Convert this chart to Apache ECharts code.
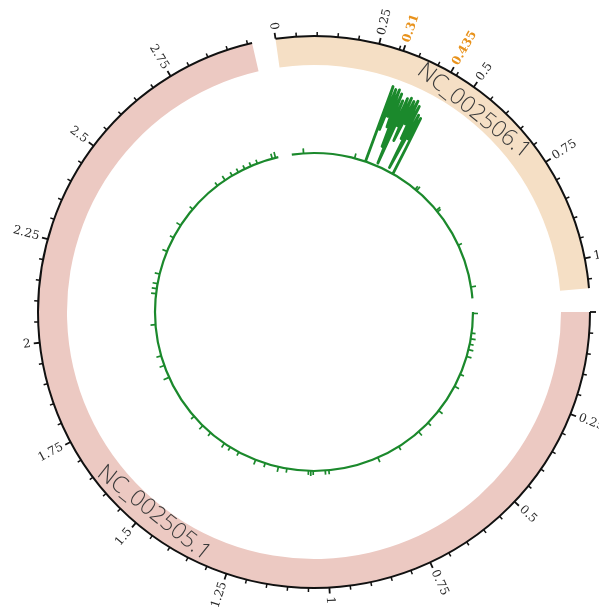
<!DOCTYPE html>
<html>
<head>
<meta charset="utf-8">
<script src="https://cdn.jsdelivr.net/npm/echarts@6/dist/echarts.min.js"></script>
<style>
  html, body { margin: 0; padding: 0; background: #ffffff; }
  #chart { width: 599px; height: 608px; }
</style>
</head>
<body>
<div id="chart"></div>
<script>
// Genome layout (lengths in Mb)
const chromNames = ['NC_002505.1', 'NC_002506.1'];
const chromLengths = [2.961149, 1.072315];
const gapMb = 0.057;

// Ideogram ticks
const tickStep = 0.05;
const ticksPerLabel = 5;
const chr1TickLabels = ['0', '0.25', '0.5', '0.75', '1', '1.25', '1.5', '1.75', '2', '2.25', '2.5', '2.75'];
const chr2TickLabels = ['0', '0.25', '0.5', '0.75', '1'];
const markedPositions = [0.31, 0.435];   // on NC_002506.1
const markedLabels = ['0.31', '0.435'];

// Signal track: isolated peaks (position Mb, signal)
const chr1SpikePos = [0.006, 0.088, 0.112, 0.135, 0.158, 0.187, 0.266, 0.321,
  0.442, 0.509, 0.563, 0.666, 0.764,
  0.975, 0.990, 1.040, 1.050, 1.060,
  1.150, 1.186, 1.243, 1.285,
  1.362, 1.403, 1.432,
  1.504, 1.548, 1.601,
  1.794, 1.847, 1.889,
  2.021,
  2.150, 2.171, 2.192, 2.233,
  2.332, 2.395, 2.454, 2.538,
  2.680, 2.719, 2.754, 2.783, 2.813, 2.841, 2.870,
  2.935, 2.949];
const chr1SpikeVal = [5, 4, 5, 4, 5, 5, 4, 5,
  5, 4, 5, 4, 5,
  4, 4, 4, 5, 4,
  4, 5, 4, 5,
  4, 4, 5,
  4, 5, 4,
  6, 5, 5,
  5,
  5, 5, 5, 5,
  5, 4, 5, 4,
  4, 5, 4, 4, 4, 4, 4,
  5, 6];
const chr2SpikePos = [0.049, 0.263, 0.548, 0.556, 0.672, 0.680, 0.843, 1.025];
const chr2SpikeVal = [5, 5, 4, 5, 5, 4, 4, 5];

// Signal track: high-signal region on NC_002506.1 (0.31 - 0.435 Mb)
const chr2RegionPos = [0.310, 0.315, 0.320, 0.325, 0.330, 0.335, 0.340, 0.345, 0.350,
  0.355, 0.360, 0.365, 0.370, 0.375, 0.380, 0.385, 0.390, 0.395, 0.400,
  0.405, 0.410, 0.415, 0.420, 0.425, 0.430, 0.435];
const chr2RegionVal = [0, 80, 35, 78, 50, 79, 40, 76, 20,
  70, 3, 74, 45, 76, 30, 74, 50, 76, 35,
  72, 4, 64, 38, 62, 30, 0];

const totalMb = chromLengths[0] + chromLengths[1] + 2 * gapMb;
const offsets = [0, chromLengths[0] + gapMb];
const tickLabels = [chr1TickLabels, chr2TickLabels];
const spikePos = [chr1SpikePos, chr2SpikePos];
const spikeVal = [chr1SpikeVal, chr2SpikeVal];

const bandColors = ['#ecc9c2', '#f5dfc5'];
const trackColor = '#1b892c';
const tickFont = '12px "DejaVu Serif"';

function geom(api, cs, r, pos) {
  const p = api.coord([r, pos]);
  const dx = p[0] - cs.cx, dy = p[1] - cs.cy;
  return { x: p[0], y: p[1], r: Math.sqrt(dx * dx + dy * dy), a: Math.atan2(dy, dx) };
}

function arcRange(api, cs, r, s0, s1) {
  const g0 = geom(api, cs, r, s0), g1 = geom(api, cs, r, s1);
  let a1 = g1.a;
  while (a1 <= g0.a) a1 += 2 * Math.PI;
  return { r: g0.r, a0: g0.a, a1: a1 };
}

function radialLabel(g, dist, text, style) {
  const ux = Math.cos(g.a), uy = Math.sin(g.a);
  const right = ux > 0.001;
  return {
    type: 'text',
    x: g.x + ux * dist,
    y: g.y + uy * dist,
    rotation: right ? -g.a : -(g.a + Math.PI),
    style: Object.assign({
      text: text,
      align: right ? 'left' : 'right',
      verticalAlign: 'middle'
    }, style)
  };
}

function renderIdeogram(params, api) {
  const i = params.dataIndex;
  const cs = params.coordSys;
  const s0 = offsets[i], s1 = s0 + chromLengths[i];
  const inner = arcRange(api, cs, 0, s0, s1);
  const outer = arcRange(api, cs, 1, s0, s1);
  const children = [];
  children.push({
    type: 'sector',
    shape: { cx: cs.cx, cy: cs.cy, r0: inner.r, r: outer.r, startAngle: outer.a0, endAngle: outer.a1, clockwise: true },
    style: { fill: bandColors[i] }
  });
  children.push({
    type: 'arc',
    shape: { cx: cs.cx, cy: cs.cy, r: outer.r, startAngle: outer.a0, endAngle: outer.a1, clockwise: true },
    style: { stroke: '#111111', lineWidth: 2, fill: null }
  });
  const nTicks = Math.floor(chromLengths[i] / tickStep + 1e-9);
  for (let k = 0; k <= nTicks; k++) {
    const major = k % ticksPerLabel === 0;
    const g = geom(api, cs, 1, s0 + k * tickStep);
    const len = major ? 6 : 4;
    const ux = Math.cos(g.a), uy = Math.sin(g.a);
    children.push({
      type: 'line',
      shape: { x1: g.x, y1: g.y, x2: g.x + ux * len, y2: g.y + uy * len },
      style: { stroke: '#111111', lineWidth: major ? 1.8 : 1.5 }
    });
    if (major) {
      const label = tickLabels[i][k / ticksPerLabel];
      if (label !== undefined) {
        children.push(radialLabel(g, len + 3, label, { font: tickFont, fill: '#2a2a2a' }));
      }
    }
  }
  if (i === 1) {
    markedPositions.forEach(function (p, j) {
      const g = geom(api, cs, 1, s0 + p);
      const ux = Math.cos(g.a), uy = Math.sin(g.a);
      children.push({
        type: 'line',
        shape: { x1: g.x, y1: g.y, x2: g.x + ux * 6, y2: g.y + uy * 6 },
        style: { stroke: '#111111', lineWidth: 1.8 }
      });
      children.push(radialLabel(g, 9, markedLabels[j], { font: 'bold 12px "DejaVu Serif"', fill: '#e8921c' }));
    });
  }
  // chromosome name along the band
  const mid = geom(api, cs, 0.34, s0 + chromLengths[i] / 2);
  const lower = Math.sin(mid.a) > 0;
  const dir = lower ? mid.a - Math.PI / 2 : mid.a + Math.PI / 2;
  children.push({
    type: 'text',
    x: mid.x, y: mid.y,
    rotation: -dir,
    style: {
      text: chromNames[i],
      font: '300 23px "Open Sans"',
      fill: '#3a3a3a',
      align: 'center',
      verticalAlign: 'middle'
    }
  });
  return { type: 'group', children: children };
}

function renderTrack(params, api) {
  const i = params.dataIndex;
  const cs = params.coordSys;
  const s0 = offsets[i], s1 = s0 + chromLengths[i];
  const base = arcRange(api, cs, 0, s0, s1);
  const children = [];
  children.push({
    type: 'arc',
    shape: { cx: cs.cx, cy: cs.cy, r: base.r, startAngle: base.a0, endAngle: base.a1, clockwise: true },
    style: { stroke: trackColor, lineWidth: 2.2, fill: null }
  });
  spikePos[i].forEach(function (p, j) {
    const a = api.coord([0, s0 + p]);
    const b = api.coord([spikeVal[i][j], s0 + p]);
    children.push({
      type: 'line',
      shape: { x1: a[0], y1: a[1], x2: b[0], y2: b[1] },
      style: { stroke: trackColor, lineWidth: 1.7 }
    });
  });
  if (i === 1) {
    const pts = chr2RegionPos.map(function (p, j) { return api.coord([chr2RegionVal[j], s0 + p]); });
    children.push({
      type: 'polyline',
      shape: { points: pts },
      style: { stroke: trackColor, lineWidth: 2.8, fill: null, lineJoin: 'round' }
    });
  }
  return { type: 'group', children: children };
}

const chart = echarts.init(document.getElementById('chart'), null, { renderer: 'canvas' });
const center = [314, 312];
chart.setOption({
  animation: false,
  backgroundColor: '#ffffff',
  polar: [
    { center: center, radius: [247, 276] },
    { center: center, radius: [159, 245] }
  ],
  angleAxis: [
    { polarIndex: 0, type: 'value', min: 0, max: totalMb, startAngle: 0, clockwise: true, show: false },
    { polarIndex: 1, type: 'value', min: 0, max: totalMb, startAngle: 0, clockwise: true, show: false }
  ],
  radiusAxis: [
    { polarIndex: 0, type: 'value', min: 0, max: 1, show: false },
    { polarIndex: 1, type: 'value', min: 0, max: 86, show: false }
  ],
  series: [
    {
      type: 'custom',
      coordinateSystem: 'polar',
      polarIndex: 0,
      silent: true,
      renderItem: renderIdeogram,
      data: offsets.map(function (o) { return [1, o]; })
    },
    {
      type: 'custom',
      coordinateSystem: 'polar',
      polarIndex: 1,
      silent: true,
      renderItem: renderTrack,
      data: offsets.map(function (o) { return [0, o]; })
    }
  ]
});
</script>
</body>
</html>
